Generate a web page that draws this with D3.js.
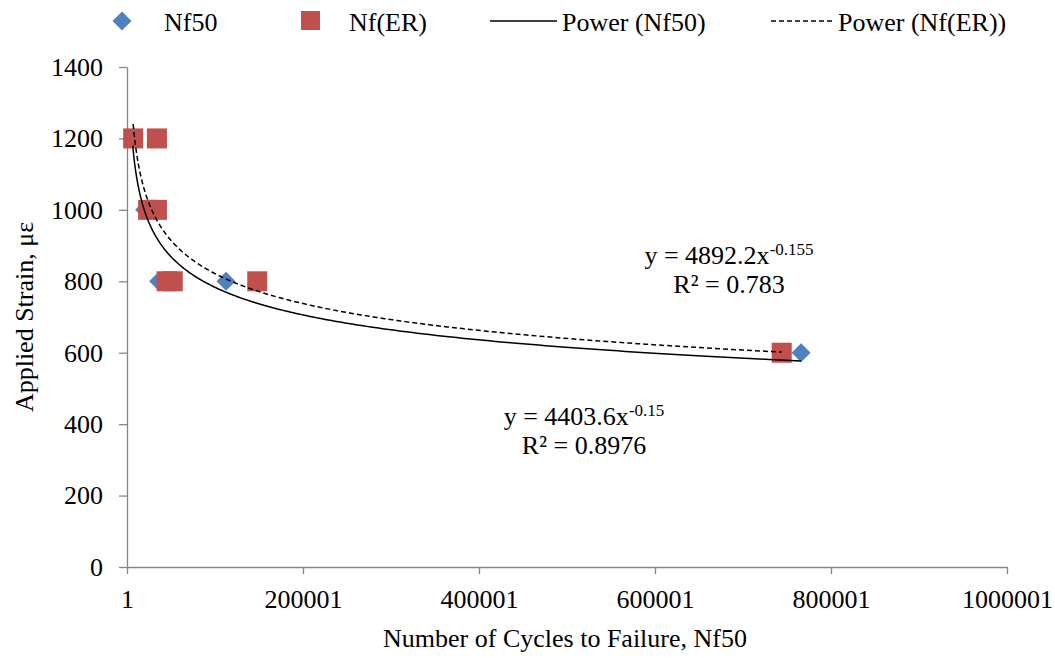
<!DOCTYPE html>
<html><head><meta charset="utf-8">
<script src="https://cdn.jsdelivr.net/npm/d3@7"></script>
<style>body{margin:0;background:#fff}</style>
</head><body><svg id="c" width="1055" height="658"></svg>
<script>
// Data
const nf50X = [6500, 20000, 36000, 112500, 766000];
const nf50Y = [1200, 1000, 800, 800, 600];
const erX = [7000, 34000, 24000, 34000, 45000, 52000, 148000, 744000];
const erY = [1200, 1200, 1000, 1000, 800, 800, 800, 600];
const fitNf50 = {a: 4403.6, b: -0.15, label: "y = 4403.6x", exp: "-0.15", r2: "R² = 0.8976"};
const fitER = {a: 4892.2, b: -0.155, label: "y = 4892.2x", exp: "-0.155", r2: "R² = 0.783"};
const xTicks = [1, 200001, 400001, 600001, 800001, 1000001];
const yTicks = [0, 200, 400, 600, 800, 1000, 1200, 1400];
const legendLabels = ["Nf50", "Nf(ER)", "Power (Nf50)", "Power (Nf(ER))"];

const svg = d3.select("#c");
const L = 127, R = 1007, T = 67, B = 567;
const FS = 26;
const FF = '"Liberation Serif"';
const x = d3.scaleLinear().domain([1, 1000001]).range([L, R]);
const y = d3.scaleLinear().domain([0, 1400]).range([B, T]);
const axisColor = "#868686";

// axes
const gx = svg.append("g").attr("transform", `translate(0,${B})`)
  .call(d3.axisBottom(x).tickValues(xTicks).tickFormat(d3.format("d")).tickSizeInner(7).tickSizeOuter(0));
const gy = svg.append("g").attr("transform", `translate(${L},0)`)
  .call(d3.axisLeft(y).tickValues(yTicks).tickFormat(d3.format("d")).tickSizeInner(8).tickSizeOuter(0).tickPadding(16));
[gx, gy].forEach(g => {
  g.attr("font-family", FF).attr("font-size", FS);
  g.select(".domain").attr("stroke", axisColor).attr("stroke-width", 1.3);
  g.selectAll(".tick line").attr("stroke", axisColor).attr("stroke-width", 1.3);
  g.selectAll(".tick text").attr("font-size", FS).attr("fill", "#000").attr("font-family", FF).style("font-family", FF);
});
gx.selectAll(".tick text").attr("dy", 0).attr("y", 41).attr("text-anchor", "middle");
gy.selectAll(".tick text").attr("text-anchor", "end");

// markers
svg.append("g").selectAll("path").data(nf50X.map((v, i) => [v, nf50Y[i]])).join("path")
  .attr("d", d3.symbol().type(d3.symbolSquare).size(180)())
  .attr("transform", d => `translate(${x(d[0])},${y(d[1])}) rotate(45)`)
  .attr("fill", "#4F81BD");
svg.append("g").selectAll("rect").data(erX.map((v, i) => [v, erY[i]])).join("rect")
  .attr("x", d => x(d[0]) - 10).attr("y", d => y(d[1]) - 10)
  .attr("width", 20).attr("height", 20).attr("fill", "#C0504D");

// trendlines
function trend(fit, xs) {
  const lo = d3.min(xs), hi = d3.max(xs);
  const pts = d3.range(0, 301).map(i => {
    const xv = lo * Math.pow(hi / lo, i / 300);
    return [xv, fit.a * Math.pow(xv, fit.b)];
  });
  return d3.line().x(d => x(d[0])).y(d => y(d[1]))(pts);
}
svg.append("path").attr("d", trend(fitNf50, nf50X)).attr("fill", "none").attr("stroke", "#000").attr("stroke-width", 1.5);
svg.append("path").attr("d", trend(fitER, erX)).attr("fill", "none").attr("stroke", "#000").attr("stroke-width", 1.5).attr("stroke-dasharray", "5,3");

function txt(px, py, anchor) {
  return svg.append("text").attr("x", px).attr("y", py).attr("text-anchor", anchor)
    .attr("font-size", FS).attr("font-family", FF).style("font-family", FF).attr("fill", "#000");
}

// equations
function eq(fit, cx, cy) {
  const t = txt(cx, cy, "middle");
  t.append("tspan").text(fit.label);
  t.append("tspan").attr("font-size", 17).attr("dy", -9).text(fit.exp);
  txt(cx, cy + 29, "middle").text(fit.r2);
}
eq(fitER, 729, 264);
eq(fitNf50, 584, 425);

// axis titles
txt(565, 647, "middle").text("Number of Cycles to Failure, Nf50");
txt(0, 0, "middle").attr("transform", "translate(33,317) rotate(-90)").text("Applied Strain, με");

// legend
svg.append("path").attr("d", d3.symbol().type(d3.symbolSquare).size(180)()).attr("transform", "translate(122,21) rotate(45)").attr("fill", "#4F81BD");
svg.append("rect").attr("x", 301).attr("y", 11).attr("width", 19).attr("height", 19).attr("fill", "#C0504D");
svg.append("line").attr("x1", 490).attr("x2", 557).attr("y1", 21).attr("y2", 21).attr("stroke", "#000").attr("stroke-width", 1.5);
svg.append("line").attr("x1", 771).attr("x2", 832).attr("y1", 21).attr("y2", 21).attr("stroke", "#000").attr("stroke-width", 1.5).attr("stroke-dasharray", "5,3");
const legendX = [164, 349, 562, 838];
legendLabels.forEach((t, i) => { txt(legendX[i], 31, "start").text(t); });
</script></body></html>
